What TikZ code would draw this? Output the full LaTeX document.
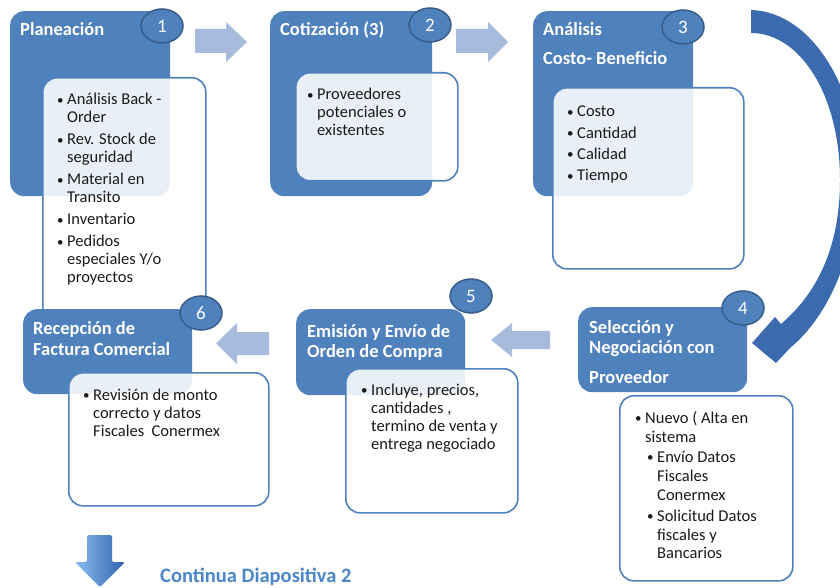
\documentclass[tikz,border=0pt]{standalone}
\usepackage{fontspec}
\setmainfont{Carlito}
\usetikzlibrary{shapes.geometric}

\definecolor{boxblue}{HTML}{4F81BD}
\definecolor{ringblue}{HTML}{385D8A}
\definecolor{panelline}{HTML}{4F81BD}
\definecolor{paleblue}{HTML}{A7BCDC}
\definecolor{arcblue}{HTML}{3B6BAE}
\definecolor{linkblue}{HTML}{4A86C8}
\definecolor{bodytext}{HTML}{1A1A1A}
\definecolor{glosslight}{HTML}{8CBDF0}
\definecolor{glossdark}{HTML}{2F62AE}

% small bullet and hanging indent for the list panels
\newcommand\bul{\makebox[10pt][l]{{\fontsize{13}{13}\selectfont\raisebox{0.6pt}{•}}}}
\newcommand\ind{\hspace*{10pt}}

\tikzset{
  stagebox/.style={fill=boxblue, rounded corners=14pt, anchor=north west, inner sep=0pt},
  panel/.style={draw=panelline, line width=1.6pt, fill=white, fill opacity=0.88,
                rounded corners=14pt, anchor=north west, inner sep=0pt},
  stepnum/.style={ellipse, draw=ringblue, line width=1.5pt, fill=boxblue,
                  minimum width=42pt, minimum height=34pt, inner sep=0pt,
                  text=white, font=\fontsize{19}{19}\selectfont},
  ttl/.style={anchor=base west, inner sep=0pt, text=white,
              font=\fontsize{18.5}{20.5}\selectfont\bfseries},
  lst/.style={anchor=base west, inner sep=0pt, text=bodytext,
              font=\fontsize{16.5}{18}\selectfont},
  flowarrow/.style={fill=paleblue},
}

\begin{document}
\begin{tikzpicture}[x=1pt,y=-1pt]
\clip (0,0) rectangle (840,588);
\fill[white] (0,0) rectangle (840,588);

% ---- stage 1: Planeacion
\node[stagebox, minimum width=160pt, minimum height=185pt] (b1) at (10,11) {};
\node[panel, minimum width=163pt, minimum height=245pt] (p1) at (42,77) {};
\node[stepnum] (c1) at (162,26) {1};
\node[ttl] (t1) at (20,36) {Planeación};
\node[lst] (l1) at (57,105) {\begin{tabular}[t]{@{}l@{}}
\bul Análisis Back -\\
\ind Order\\[4pt]
\bul Rev. Stock de\\
\ind seguridad\\[4pt]
\bul Material en\\
\ind Transito\\[4pt]
\bul Inventario\\[4pt]
\bul Pedidos\\
\ind especiales Y/o\\
\ind proyectos
\end{tabular}};

% ---- stage 2: Cotizacion
\node[stagebox, minimum width=162pt, minimum height=185pt] (b2) at (270,11) {};
\node[panel, minimum width=162pt, minimum height=108pt] (p2) at (295,72) {};
\node[stepnum] (c2) at (430,25) {2};
\node[ttl] (t2) at (280,36) {Cotización (3)};
\node[lst] (l2) at (307,100) {\begin{tabular}[t]{@{}l@{}}
\bul Proveedores\\
\ind potenciales o\\
\ind existentes
\end{tabular}};

% ---- stage 3: Analisis Costo-Beneficio
\node[stagebox, minimum width=160pt, minimum height=185pt] (b3) at (533,11) {};
\node[panel, minimum width=191pt, minimum height=181pt] (p3) at (552,87) {};
\node[stepnum] (c3) at (683,27) {3};
\node[ttl] (t3) at (543,36) {\begin{tabular}[t]{@{}l@{}}
Análisis\\[8.5pt]
Costo- Beneficio
\end{tabular}};
\node[lst] (l3) at (567,117) {\begin{tabular}[t]{@{}l@{}}
\bul Costo\\[3.3pt]
\bul Cantidad\\[3.3pt]
\bul Calidad\\[3.3pt]
\bul Tiempo
\end{tabular}};

% ---- sweeping arrow from stage 3 down to stage 4
\fill[arcblue] (751,10) .. controls (815,12) and (858,95) .. (858,170)
  .. controls (858,250) and (830,315) .. (790,348)
  -- (776,363) -- (752,343) -- (775,317) -- (781,324)
  .. controls (815,295) and (840,250) .. (840,180)
  .. controls (840,95) and (800,33) .. (751,33) -- cycle;

% ---- stage 4: Seleccion y Negociacion
\node[stagebox, minimum width=169pt, minimum height=85pt] (b4) at (578,307) {};
\node[panel, minimum width=173pt, minimum height=185pt] (p4) at (619,395) {};
\node[stepnum] (c4) at (743,308) {4};
\node[ttl] (t4) at (589,333) {\begin{tabular}[t]{@{}l@{}}
Selección y\\[-0.5pt]
Negociación con\\[9.5pt]
Proveedor
\end{tabular}};
\node[lst] (l4) at (635,423) {\begin{tabular}[t]{@{}l@{}}
\bul Nuevo ( Alta en\\[1pt]
\ind sistema\\[2.5pt]
\hspace*{12pt}\bul Envío Datos\\[1pt]
\hspace*{12pt}\ind Fiscales\\[1pt]
\hspace*{12pt}\ind Conermex\\[2.5pt]
\hspace*{12pt}\bul Solicitud Datos\\[1pt]
\hspace*{12pt}\ind fiscales y\\[0pt]
\hspace*{12pt}\ind Bancarios
\end{tabular}};

% ---- stage 5: Emision y Envio de Orden de Compra
\node[stagebox, minimum width=169pt, minimum height=86pt] (b5) at (296,309) {};
\node[panel, minimum width=172pt, minimum height=144pt] (p5) at (345,368) {};
\node[stepnum] (c5) at (471,296) {5};
\node[ttl] (t5) at (307,337) {\begin{tabular}[t]{@{}l@{}}
Emisión y Envío de\\[-0.5pt]
Orden de Compra
\end{tabular}};
\node[lst] (l5) at (361,395) {\begin{tabular}[t]{@{}l@{}}
\bul Incluye, precios,\\[0.3pt]
\ind cantidades ,\\[0.3pt]
\ind termino de venta y\\[0.3pt]
\ind entrega negociado
\end{tabular}};

% ---- stage 6: Recepcion de Factura Comercial
\node[stagebox, minimum width=169pt, minimum height=85pt] (b6) at (23,309) {};
\node[panel, minimum width=200pt, minimum height=133pt] (p6) at (68,372) {};
\node[stepnum] (c6) at (201,313) {6};
\node[ttl] (t6) at (33,334) {\begin{tabular}[t]{@{}l@{}}
Recepción de\\[0.5pt]
Factura Comercial
\end{tabular}};
\node[lst] (l6) at (83,400) {\begin{tabular}[t]{@{}l@{}}
\bul Revisión de monto\\[0.3pt]
\ind correcto y datos\\[0.3pt]
\ind Fiscales\ \ Conermex
\end{tabular}};

% ---- block arrows between the stages
\fill[flowarrow] (195,29) -- (226,29) -- (226,22) -- (247,42) -- (226,62) -- (226,53) -- (195,53) -- cycle;
\fill[flowarrow] (456,29) -- (488,29) -- (488,22) -- (508,42) -- (488,62) -- (488,53) -- (456,53) -- cycle;
\fill[flowarrow] (550,331) -- (512,331) -- (512,323) -- (491,340) -- (512,357) -- (512,349) -- (550,349) -- cycle;
\fill[flowarrow] (269,332) -- (237,332) -- (237,323) -- (216,343.5) -- (237,364) -- (237,355) -- (269,355) -- cycle;

% ---- continuation marker
\shade[left color=glosslight, right color=glossdark, rounded corners=1.5pt]
  (87,535) -- (112,535) -- (112,562) -- (125,562) -- (100,587) -- (75,562) -- (87,562) -- cycle;
\node[anchor=base west, inner sep=0pt, text=linkblue,
      font=\fontsize{20.5}{22}\selectfont\bfseries] (cont) at (160,582) {Continua Diapositiva 2};
\end{tikzpicture}
\end{document}
